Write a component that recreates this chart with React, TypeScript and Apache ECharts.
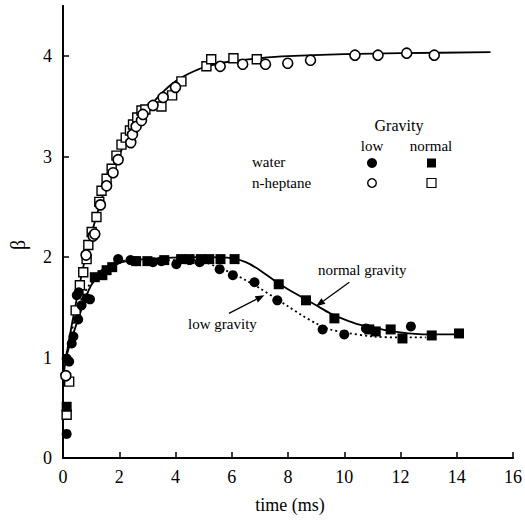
import React, { useEffect, useRef } from "react";
import * as echarts from "echarts";

// ---- data (time ms, beta) ----
const heptaneLow: number[][] = [
  [0.1, 0.82], [0.82, 2.02], [1.07, 2.21], [1.13, 2.23], [1.33, 2.52], [1.55, 2.71],
  [1.78, 2.84], [1.96, 2.97], [2.41, 3.14], [2.47, 3.22], [2.6, 3.3], [2.79, 3.36],
  [2.84, 3.42], [3.2, 3.51], [3.56, 3.59], [4.0, 3.69], [5.59, 3.9], [6.39, 3.92],
  [7.2, 3.92], [7.99, 3.93], [8.8, 3.96], [10.38, 4.01], [11.2, 4.01], [12.22, 4.03], [13.2, 4.01],
];
const heptaneNormal: number[][] = [
  [0.13, 0.43], [0.22, 0.76], [0.45, 1.47], [0.6, 1.72], [0.72, 1.85], [0.84, 1.98],
  [0.9, 2.12], [1.02, 2.25], [1.19, 2.4], [1.29, 2.55], [1.37, 2.66], [1.55, 2.78],
  [1.73, 2.88], [1.9, 3.01], [2.08, 3.12], [2.23, 3.19], [2.38, 3.26], [2.49, 3.32],
  [2.64, 3.39], [2.79, 3.46], [2.93, 3.47], [3.5, 3.5], [3.88, 3.61], [4.21, 3.75],
  [5.1, 3.9], [5.27, 3.97], [6.06, 3.98], [6.89, 3.97],
];
const waterLow: number[][] = [
  [0.13, 0.24], [0.13, 0.99], [0.22, 0.96], [0.31, 1.14], [0.37, 1.21], [0.54, 1.38],
  [0.49, 1.62], [0.56, 1.65], [0.66, 1.52], [0.84, 1.59], [0.96, 1.58], [1.96, 1.98],
  [2.4, 1.97], [2.6, 1.96], [3.2, 1.95], [3.5, 1.96], [4.03, 1.93], [4.5, 1.97],
  [4.86, 1.95], [5.57, 1.88], [6.04, 1.82], [6.81, 1.75], [7.62, 1.57], [9.23, 1.28],
  [10.0, 1.23], [10.77, 1.29], [12.37, 1.31],
];
const waterNormal: number[][] = [
  [0.13, 0.51], [1.13, 1.8], [1.4, 1.82], [1.55, 1.87], [1.75, 1.9], [2.6, 1.96],
  [3.0, 1.96], [3.6, 1.97], [4.2, 1.98], [4.5, 1.98], [4.9, 1.98], [5.2, 1.98],
  [5.6, 1.98], [6.1, 1.98], [7.67, 1.73], [8.64, 1.57], [9.65, 1.39], [10.89, 1.28],
  [11.12, 1.26], [11.65, 1.28], [12.07, 1.19], [13.11, 1.22], [14.08, 1.24],
];
// fitted curves
const fitHeptane: number[][] = [
  [0, 0.8], [0.2, 1.15], [0.5, 1.6], [0.8, 2.0], [1.2, 2.42], [1.6, 2.76], [2, 3.02],
  [2.5, 3.28], [3, 3.47], [3.5, 3.63], [4, 3.75], [4.5, 3.83], [5, 3.89], [6, 3.95], [7, 3.98],
  [8, 4.0], [10, 4.02], [12, 4.03], [15.2, 4.04],
];
const fitWaterNormal: number[][] = [
  [0.05, 0.95], [0.5, 1.35], [1.0, 1.72], [1.5, 1.86], [2.0, 1.94], [2.5, 1.97],
  [3.5, 1.99], [5, 2.0], [6, 1.99], [6.5, 1.95], [7.0, 1.87], [7.5, 1.77], [8.0, 1.68],
  [8.5, 1.6], [9.0, 1.52], [9.5, 1.44], [10.0, 1.38], [10.5, 1.33], [11.0, 1.3],
  [12.0, 1.25], [13.0, 1.23], [14.1, 1.23],
];
const fitWaterLow: number[][] = [
  [0.05, 0.95], [0.3, 1.25], [0.6, 1.55], [1.0, 1.75], [1.5, 1.9], [2, 1.96], [3, 1.97],
  [4.5, 1.97], [5.0, 1.95], [5.5, 1.9], [6.0, 1.84], [6.5, 1.77], [7.0, 1.69], [7.5, 1.6],
  [8.0, 1.51], [8.5, 1.42], [9.0, 1.34], [9.5, 1.28], [10, 1.25], [11, 1.21], [12, 1.2], [12.9, 1.2],
];
const xTicks = [0, 2, 4, 6, 8, 10, 12, 14, 16];
const yTicks = [0, 1, 2, 3, 4];
const annotNormal = { text: "normal gravity", at: [10.64, 1.87], from: [10.18, 1.75], to: [9.0, 1.51] };
const annotLow = { text: "low gravity", at: [5.67, 1.33], from: [5.9, 1.44], to: [7.16, 1.62] };

const FONT = "Liberation Serif, Times New Roman, serif";

function arrow(p0: number[], p1: number[]) {
  const dx = p1[0] - p0[0];
  const dy = p1[1] - p0[1];
  const len = Math.sqrt(dx * dx + dy * dy);
  const ux = dx / len, uy = dy / len;
  const hl = 9, hw = 3.5;
  const bx = p1[0] - ux * hl, by = p1[1] - uy * hl;
  return [
    { type: "line", shape: { x1: p0[0], y1: p0[1], x2: bx, y2: by }, style: { stroke: "#000", lineWidth: 1.3 } },
    {
      type: "polygon",
      shape: { points: [[p1[0], p1[1]], [bx - uy * hw, by + ux * hw], [bx + uy * hw, by - ux * hw]] },
      style: { fill: "#000" },
    },
  ];
}

export default function App() {
  const ref = useRef<HTMLDivElement>(null);
  useEffect(() => {
    if (!ref.current) return;
    document.body.style.margin = "0";
    document.body.style.overflow = "hidden";
    const chart = echarts.init(ref.current, undefined, { renderer: "svg" });
    const axisLine = { show: true, lineStyle: { color: "#000", width: 1.8 } };
    const scatterBase = { type: "scatter", symbolSize: 10, z: 5 };
    chart.setOption({
      animation: false,
      backgroundColor: "#fff",
      grid: { left: 63, right: 10, top: 6, bottom: 63 },
      xAxis: [
        {
          type: "value", min: 0, max: 16, interval: 2,
          axisLine, splitLine: { show: false },
          axisTick: { inside: true, length: 6, lineStyle: { color: "#000", width: 1.5 }, customValues: xTicks },
          axisLabel: { color: "#000", fontFamily: FONT, fontSize: 18, margin: 10, customValues: xTicks },
        },
        {
          type: "value", position: "top", min: 0, max: 16, interval: 2,
          axisLine, splitLine: { show: false }, axisTick: { show: false }, axisLabel: { show: false },
        },
      ],
      yAxis: [
        {
          type: "value", min: 0, max: 4.5, interval: 1,
          axisLine, splitLine: { show: false },
          axisTick: { inside: true, length: 6, lineStyle: { color: "#000", width: 1.5 }, customValues: yTicks },
          axisLabel: { color: "#000", fontFamily: FONT, fontSize: 18, margin: 11, customValues: yTicks },
        },
        {
          type: "value", position: "right", min: 0, max: 4.5, interval: 1,
          axisLine, splitLine: { show: false }, axisTick: { show: false }, axisLabel: { show: false },
        },
      ],
      series: [
        {
          type: "line", data: fitHeptane, showSymbol: false, smooth: 0.3,
          lineStyle: { color: "#000", width: 1.8 }, z: 2,
        },
        {
          type: "line", data: fitWaterNormal, showSymbol: false, smooth: 0.3,
          lineStyle: { color: "#000", width: 1.8 }, z: 2,
        },
        {
          type: "line", data: fitWaterLow, showSymbol: false, smooth: 0.3,
          lineStyle: { color: "#000", width: 1.8, type: [2, 3] }, z: 2,
        },
        { ...scatterBase, data: heptaneNormal, symbol: "rect", symbolSize: 9,
          itemStyle: { color: "#fff", borderColor: "#000", borderWidth: 1.4, opacity: 1 } },
        { ...scatterBase, data: heptaneLow, symbol: "circle",
          itemStyle: { color: "#fff", borderColor: "#000", borderWidth: 1.6, opacity: 1 } },
        { ...scatterBase, data: waterNormal, symbol: "rect", symbolSize: 10, itemStyle: { color: "#000", opacity: 1 } },
        { ...scatterBase, data: waterLow, symbol: "circle", symbolSize: 10, itemStyle: { color: "#000", opacity: 1 } },
      ],
    });

    const px = (p: number[]) => chart.convertToPixel({ xAxisIndex: 0, yAxisIndex: 0 }, p) as number[];
    const nAt = px(annotNormal.at), lAt = px(annotLow.at);
    const textStyle = (size: number) => ({ fill: "#000", fontFamily: FONT, fontSize: size });
    chart.setOption({
      graphic: [
        { type: "text", x: nAt[0], y: nAt[1], style: { ...textStyle(15), text: annotNormal.text, align: "center", verticalAlign: "middle" } },
        { type: "text", x: lAt[0], y: lAt[1], style: { ...textStyle(15), text: annotLow.text, align: "center", verticalAlign: "middle" } },
        ...arrow(px(annotNormal.from), px(annotNormal.to)),
        ...arrow(px(annotLow.from), px(annotLow.to)),
        // legend
        { type: "text", x: 399, y: 125, style: { ...textStyle(16), text: "Gravity", align: "center", verticalAlign: "middle" } },
        { type: "text", x: 372, y: 146, style: { ...textStyle(15), text: "low", align: "center", verticalAlign: "middle" } },
        { type: "text", x: 431, y: 146, style: { ...textStyle(15), text: "normal", align: "center", verticalAlign: "middle" } },
        { type: "text", x: 252, y: 162, style: { ...textStyle(15), text: "water", align: "left", verticalAlign: "middle" } },
        { type: "text", x: 252, y: 183, style: { ...textStyle(15), text: "n-heptane", align: "left", verticalAlign: "middle" } },
        { type: "circle", shape: { cx: 372, cy: 163, r: 5 }, style: { fill: "#000" } },
        { type: "rect", shape: { x: 427, y: 158.5, width: 9, height: 9 }, style: { fill: "#000" } },
        { type: "circle", shape: { cx: 372, cy: 183, r: 4.3 }, style: { fill: "#fff", stroke: "#000", lineWidth: 1.4 } },
        { type: "rect", shape: { x: 427, y: 178.5, width: 9, height: 9 }, style: { fill: "#fff", stroke: "#000", lineWidth: 1.2 } },
        // axis names
        { type: "text", x: 290, y: 505, style: { ...textStyle(18), text: "time (ms)", align: "center", verticalAlign: "middle" } },
        { type: "text", x: 18, y: 245, rotation: Math.PI / 2, style: { ...textStyle(20), text: "β", align: "center", verticalAlign: "middle" } },
      ],
    });
    return () => chart.dispose();
  }, []);
  return <div ref={ref} style={{ position: "absolute", left: 0, top: 0, width: 525, height: 521 }} />;
}
